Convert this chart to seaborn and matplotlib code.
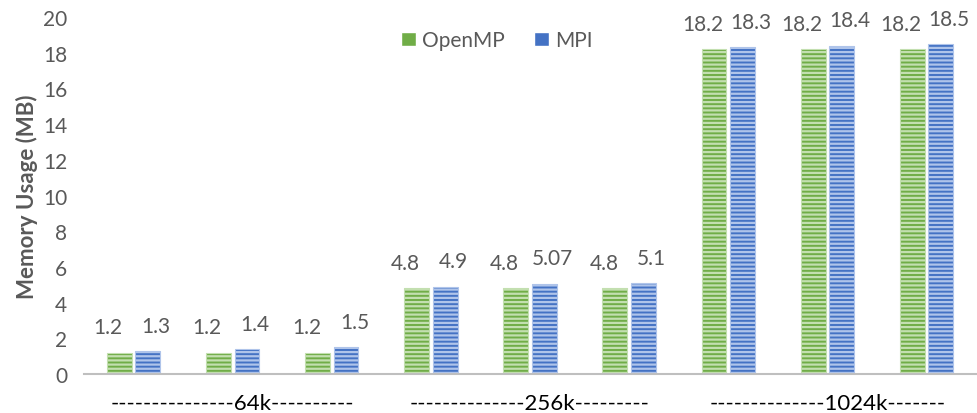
import numpy as np
import pandas as pd
import seaborn as sns
import matplotlib.pyplot as plt

# Memory usage per run, three runs for each problem size
sizes = ["64k", "256k", "1024k"]
size_labels = [
    "---------------64k----------",
    "--------------256k---------",
    "--------------1024k-------",
]
runs_per_size = 3
series = ["OpenMP", "MPI"]
openmp = [1.2, 1.2, 1.2, 4.8, 4.8, 4.8, 18.2, 18.2, 18.2]
mpi = [1.3, 1.4, 1.5, 4.9, 5.07, 5.1, 18.3, 18.4, 18.5]
y_ticks = list(range(0, 21, 2))

slots = list(range(len(openmp)))
df = pd.DataFrame({
    "slot": slots * 2,
    "impl": ["OpenMP"] * len(openmp) + ["MPI"] * len(mpi),
    "value": openmp + mpi,
})

sns.set_theme(style="white")
plt.rcParams["font.family"] = ["Lato", "DejaVu Sans"]
plt.rcParams["hatch.linewidth"] = 1.6

face = {"OpenMP": "#70AD47", "MPI": "#4472C4"}
stripe = {"OpenMP": "#C3DFB0", "MPI": "#AFC4EA"}
label_shift = {"OpenMP": -8, "MPI": 6}  # points, keeps neighbouring labels apart

fig = plt.figure(figsize=(9.78, 4.14), dpi=100)
ax = fig.add_axes([0.0859, 0.0942, 0.9121, 0.8623])

sns.barplot(data=df, x="slot", y="value", hue="impl", order=slots,
            hue_order=series, palette=face, width=0.575, gap=0.13,
            ax=ax, legend=True, saturation=1)

for cont, name in zip(ax.containers, series):
    for bar in cont:
        bar.set_hatch("----")
        bar.set_edgecolor(stripe[name])
        bar.set_linewidth(0.8)
        ax.annotate(f"{bar.get_height():g}",
                    (bar.get_x() + bar.get_width() / 2, bar.get_height()),
                    xytext=(label_shift[name], 11), textcoords="offset points",
                    ha="center", va="bottom", fontsize=15, color="#595959",
                    annotation_clip=False)

ax.set_ylim(0, 20)
ax.set_xlim(-0.5, len(slots) - 0.5)
ax.set_yticks(y_ticks)
ax.tick_params(axis="y", length=0, labelsize=15, labelcolor="#595959", pad=12)

centers = [i * runs_per_size + (runs_per_size - 1) / 2 for i in range(len(sizes))]
ax.set_xticks(centers)
ax.set_xticklabels(size_labels, fontsize=16, color="black")
ax.tick_params(axis="x", length=0, pad=14)

ax.set_xlabel("")
ax.set_ylabel("Memory Usage (MB)", fontsize=16, color="#595959",
              fontweight="bold", labelpad=4)

for side in ["top", "right", "left"]:
    ax.spines[side].set_visible(False)
ax.spines["bottom"].set_color("#BFBFBF")
ax.spines["bottom"].set_linewidth(1.5)

handles, labels = ax.get_legend_handles_labels()
ax.legend(handles, labels, loc="center", bbox_to_anchor=(0.463, 0.935),
          ncol=2, frameon=False, fontsize=15, handlelength=0.7,
          handleheight=0.7, handletextpad=0.3, columnspacing=1.4,
          labelcolor="#595959")

fig.savefig("out.png", dpi=100)
